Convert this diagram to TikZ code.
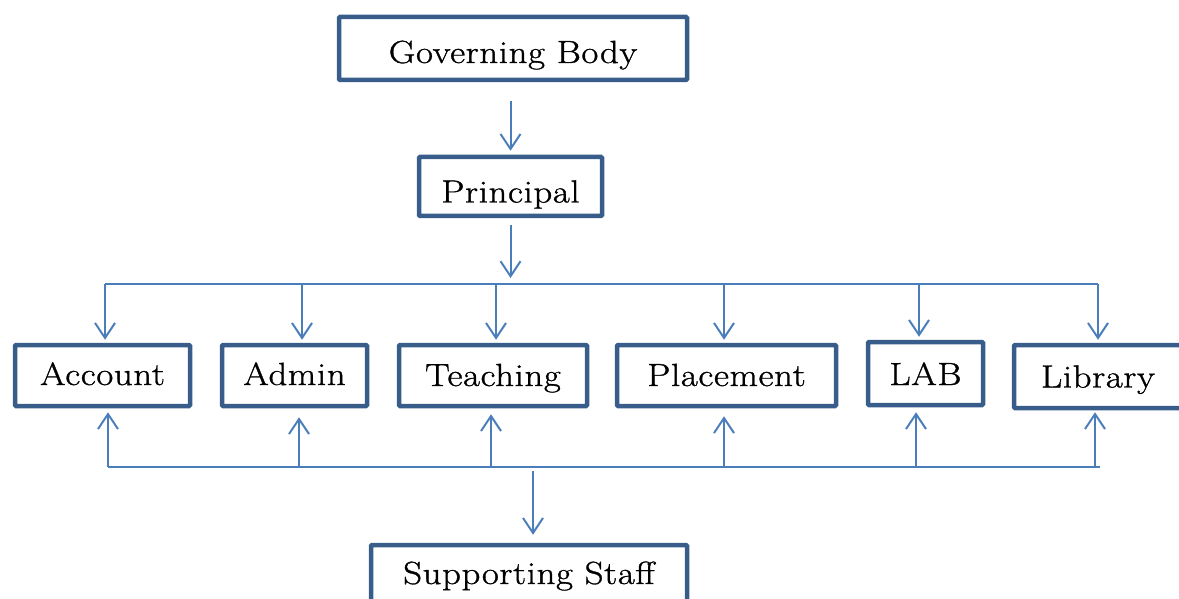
\documentclass[tikz,border=0pt]{standalone}
\usepackage{fontspec}
\setmainfont{Latin Modern Roman}[LetterSpace=2,FakeStretch=1.15,FakeBold=1]
\usetikzlibrary{arrows.meta}
\definecolor{boxc}{RGB}{56,93,138}
\definecolor{linec}{RGB}{74,126,187}
\begin{document}
\begin{tikzpicture}[x=1pt,y=-1pt,
  box/.style={draw=boxc,line width=4.5pt,rounded corners=1pt,inner sep=0pt,text=black,
    font=\fontsize{32}{38}\selectfont,text depth=0pt},
  arr/.style={draw=linec,line width=2pt,-{Straight Barb[length=15pt,width=20pt]}},
  bus/.style={draw=linec,line width=2pt}]
\useasboundingbox (0,0) rectangle (1179,599);
% boxes
\node[box,minimum width=348pt,minimum height=63pt,text height=29pt] (gb) at (513,48.5) {Governing Body};
\node[box,minimum width=183pt,minimum height=59pt,text height=32pt] (p) at (510.5,186.5) {Principal};
\node[box,minimum width=175pt,minimum height=61pt,text height=19pt] (acc) at (102.5,375.5) {Account};
\node[box,minimum width=145pt,minimum height=61pt,text height=19pt] (adm) at (294.5,375.5) {Admin};
\node[box,minimum width=188pt,minimum height=61pt,text height=21pt] (tea) at (493,375.5) {Teaching};
\node[box,minimum width=219pt,minimum height=61pt,text height=21pt] (pla) at (726.5,375.5) {Placement};
\node[box,minimum width=115pt,minimum height=63pt,text height=23pt] (lab) at (925.5,373.5) {LAB};
\node[box,minimum width=168pt,minimum height=63pt,text height=22pt] (lib) at (1098,376.5) {Library};
\node[box,minimum width=316pt,minimum height=58pt,text height=20pt] (ss) at (529,574) {Supporting Staff};
% bus lines
\coordinate (tbL) at (105,284);
\coordinate (tbR) at (1098,284);
\coordinate (bbL) at (108,467);
\coordinate (bbR) at (1100,467);
\draw[bus] (tbL) -- (tbR);
\draw[bus] (bbL) -- (bbR);
% governing body -> principal
\coordinate (g1) at ([yshift=-19pt]gb.south);
\coordinate (pT) at ([yshift=4pt]p.north);
\draw[arr] (pT |- g1) -- (pT);
% principal -> top bus
\coordinate (p1) at ([yshift=-7pt]p.south);
\coordinate (pb) at ([yshift=6pt]tbL);
\draw[arr] (p1) -- (p1 |- pb);
% top bus -> departments
\foreach \n/\dx in {acc/2.5,adm/7.5,tea/3,pla/-2.5,lab/-6.5,lib/0}{
  \coordinate (t\n) at ([xshift=\dx pt,yshift=3pt]\n.north);
  \draw[arr] (t\n |- tbL) -- (t\n);
}
% bottom bus -> departments (upwards)
\foreach \n/\dx/\dy in {acc/5.5/-4,adm/4.5/-9,tea/-2/-6,pla/-2.5/-8,lab/-9.5/-5,lib/-3/-2}{
  \coordinate (b\n) at ([xshift=\dx pt,yshift=\dy pt]\n.south);
  \draw[arr] (b\n |- bbL) -- (b\n);
}
% bottom bus -> supporting staff
\coordinate (ssT) at ([xshift=4pt,yshift=8pt]ss.north);
\coordinate (b1) at ([yshift=-4pt]bbL);
\draw[arr] (ssT |- b1) -- (ssT);
\end{tikzpicture}
\end{document}
